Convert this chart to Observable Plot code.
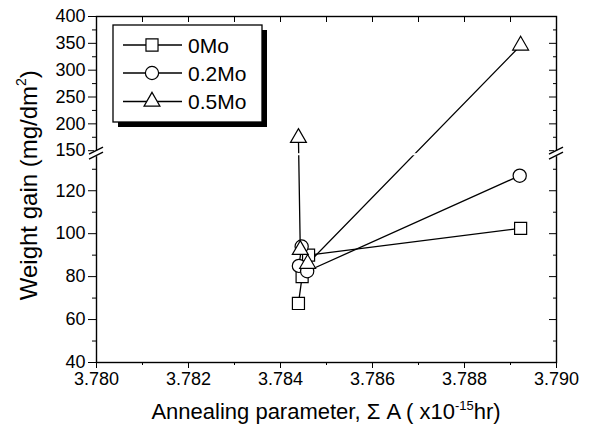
<!DOCTYPE html>
<html><head><meta charset="utf-8">
<script src="https://cdn.jsdelivr.net/npm/d3@7"></script>
<script src="https://cdn.jsdelivr.net/npm/@observablehq/plot@0.6"></script>
<style>body{margin:0;background:#fff}</style>
</head><body><div id="chart"></div>
<script>
// ---- data ----
const series = ["0Mo", "0.2Mo", "0.5Mo"];
const symbols = ["square", "circle", "triangle"];
const x0Mo  = [3.78439, 3.78447, 3.78461, 3.78922];
const y0Mo  = [67.5, 80, 90, 102.5];
const x02Mo = [3.78446, 3.78440, 3.78458, 3.78920];
const y02Mo = [94, 85, 82.5, 127];
const x05Mo = [3.78439, 3.78443, 3.78459, 3.78922];
const y05Mo = [174, 92.5, 86, 346];
const xMajor = [3.780, 3.782, 3.784, 3.786, 3.788, 3.790];
const xMinor = [3.781, 3.783, 3.785, 3.787, 3.789];
const yMajorLower = [40, 60, 80, 100, 120];
const yMinorLower = [50, 70, 90, 110, 130];
const yMajorUpper = [150, 200, 250, 300, 350, 400];
const yMinorUpper = [175, 225, 275, 325, 375];

// ---- broken y axis transform ----
const BREAK_LO = 137.25, BREAK_HI = 144.4, K = 0.25;
const ty = v => v <= BREAK_LO ? v : BREAK_LO + (Math.max(v, BREAK_HI) - BREAK_HI) * K;
const tyMax = ty(400);

const xs = [x0Mo, x02Mo, x05Mo], ys = [y0Mo, y02Mo, y05Mo];
const data = series.flatMap((s, i) => xs[i].map((x, j) => ({series: s, x, y: ys[i][j], t: ty(ys[i][j])})));

const yMajor = [...yMajorLower, ...yMajorUpper];
const yMinor = [...yMinorLower, ...yMinorUpper];
const labelOf = new Map(yMajor.map(v => [ty(v), String(v)]));

const font = "'Liberation Sans', Arial, Helvetica, sans-serif";
const radii = {square: 6.8, circle: 6.6, triangle: 5.9};

const chart = Plot.plot({
  width: 592, height: 430,
  marginLeft: 96, marginRight: 36, marginTop: 16, marginBottom: 68,
  style: {fontFamily: font, background: "white", color: "black"},
  x: {domain: [3.780, 3.790], label: null},
  y: {domain: [40, tyMax], label: null},
  marks: [
    Plot.line(data, {x: "x", y: "t", z: "series", stroke: "black", strokeWidth: 1.3}),
    // break gap
    Plot.rect([0], {x1: () => 3.780, x2: () => 3.790, y1: () => ty(136.3), y2: () => ty(139.6), fill: "white"}),
    ...series.map((s, i) => Plot.dot(data.filter(d => d.series === s), {
      x: "x", y: "t", symbol: () => symbols[i], r: radii[symbols[i]], fill: "white", stroke: "black", strokeWidth: 1.2
    })),
    Plot.frame({stroke: "black", strokeWidth: 1.4}),
    // bottom axis
    Plot.axisX(xMajor, {anchor: "bottom", tickSize: 6, tickPadding: 4, tickFormat: d3.format(".3f"), fontSize: 18, label: null}),
    Plot.axisX(xMinor, {anchor: "bottom", tickSize: 3, tickFormat: () => "", label: null}),
    // top axis (inward)
    Plot.axisX([...xMajor, ...xMinor], {anchor: "top", tickSize: 5, dy: 5, tickFormat: () => "", label: null}),
    // left axis
    Plot.axisY(yMajor.map(ty), {anchor: "left", tickSize: 8, tickPadding: 3, tickFormat: t => labelOf.get(t), fontSize: 18, label: null}),
    Plot.axisY(yMinor.map(ty), {anchor: "left", tickSize: 4, tickFormat: () => "", label: null}),
    // right axis (inward)
    Plot.axisY(yMajor.map(ty), {anchor: "right", tickSize: 8, dx: -8, tickFormat: () => "", label: null}),
    Plot.axisY(yMinor.map(ty), {anchor: "right", tickSize: 4, dx: -4, tickFormat: () => "", label: null})
  ]
});

document.getElementById("chart").appendChild(chart);

// ---- decorations: axis titles, break marks, legend ----
const svg = d3.select(chart);
const sx = chart.scale("x"), sy = chart.scale("y");
const xl = sx.apply(3.780), xr = sx.apply(3.790);
const yb = sy.apply(BREAK_LO);

// break marks
for (const xa of [xl, xr]) {
  svg.append("rect").attr("x", xa - 2).attr("y", yb - 3).attr("width", 4).attr("height", 6).attr("fill", "white");
  for (const off of [-2.5, 2.5]) {
    svg.append("line")
      .attr("x1", xa - 7).attr("y1", yb + off + 3.5)
      .attr("x2", xa + 7).attr("y2", yb + off - 3.5)
      .attr("stroke", "black").attr("stroke-width", 1.3);
  }
}

// x axis title
const xt = svg.append("text").attr("x", (xl + xr) / 2).attr("y", 419)
  .attr("text-anchor", "middle").attr("font-family", font).attr("font-size", 22).attr("fill", "black");
xt.append("tspan").text("Annealing parameter, Σ A ( x10");
xt.append("tspan").attr("font-size", 13).attr("dy", -9).text("-15");
xt.append("tspan").attr("dy", 9).text("hr)");

// y axis title
const yt = svg.append("text").attr("transform", `translate(37,${sy.apply(ty(100)) - 48}) rotate(-90)`)
  .attr("text-anchor", "middle").attr("font-family", font).attr("font-size", 24).attr("fill", "black");
yt.append("tspan").text("Weight gain (mg/dm");
yt.append("tspan").attr("font-size", 14).attr("dy", -11).text("2");
yt.append("tspan").attr("dy", 11).text(")");

// legend
const lg = svg.append("g");
const bx = 113, by = 25, bw = 149, bh = 97;
lg.append("rect").attr("x", bx + 5).attr("y", by + 5).attr("width", bw).attr("height", bh).attr("fill", "black");
lg.append("rect").attr("x", bx).attr("y", by).attr("width", bw).attr("height", bh).attr("fill", "white").attr("stroke", "black").attr("stroke-width", 1.3);
const rowsY = [45, 73, 101.5];
const symMap = {square: d3.symbolSquare, circle: d3.symbolCircle, triangle: d3.symbolTriangle};
series.forEach((s, i) => {
  const cy = rowsY[i];
  lg.append("line").attr("x1", 123).attr("x2", 182).attr("y1", cy).attr("y2", cy).attr("stroke", "black").attr("stroke-width", 1.3);
  const r = radii[symbols[i]];
  lg.append("path").attr("transform", `translate(152,${cy})`)
    .attr("d", d3.symbol(symMap[symbols[i]], r * r * Math.PI)())
    .attr("fill", "white").attr("stroke", "black").attr("stroke-width", 1.2);
  lg.append("text").attr("x", 188).attr("y", cy + 7.5).attr("text-anchor", "start")
    .attr("font-family", font).attr("font-size", 21).attr("fill", "black").text(s);
});
</script>
</body></html>
